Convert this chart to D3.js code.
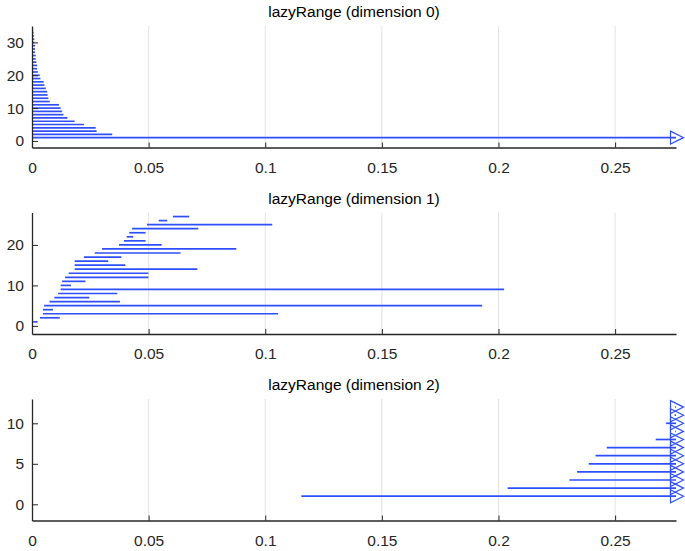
<!DOCTYPE html>
<html lang="en">
<head>
  <meta charset="utf-8" />
  <title>lazyRange barcodes</title>
  <script src="https://cdn.jsdelivr.net/npm/d3@7"></script>
  <style>
    body { margin: 0; background: #fff; }
    text { font-family: "Liberation Sans", Arial, Helvetica, sans-serif; }
  </style>
</head>
<body>
  <script>
    // barcode intervals per homology dimension, Infinity = never dies
    var dim0Birth = [0, 0, 0, 0, 0, 0, 0, 0, 0, 0, 0, 0, 0, 0, 0, 0, 0,
      0, 0, 0, 0, 0, 0, 0, 0, 0, 0, 0, 0, 0, 0, 0, 0, 0];
    var dim0Death = [Infinity, 0.0344, 0.0277, 0.0273, 0.0223, 0.0183, 0.0152, 0.0135,
      0.0129, 0.0123, 0.0116, 0.0076, 0.0070, 0.0067, 0.0065, 0.0059, 0.0053,
      0.0050, 0.0036, 0.0033, 0.0025, 0.0022, 0.0022, 0.0019, 0.0016, 0.0016,
      0.0013, 0.0013, 0.0013, 0.0010, 0.0010, 0.0009, 0.0007, 0.0005];

    var dim1Birth = [0.0005, 0.0034, 0.0047, 0.0047, 0.0052, 0.0075, 0.0096, 0.0112,
      0.0123, 0.0123, 0.0129, 0.0142, 0.0157, 0.0183, 0.0183, 0.0183, 0.0223,
      0.0269, 0.0300, 0.0373, 0.0394, 0.0406, 0.0417, 0.0429, 0.0493, 0.0543, 0.0604];
    var dim1Death = [0.0024, 0.0119, 0.1055, 0.0090, 0.1930, 0.0377, 0.0246, 0.0366,
      0.2024, 0.0167, 0.0229, 0.0499, 0.0499, 0.0709, 0.0400, 0.0327, 0.0383,
      0.0637, 0.0876, 0.0556, 0.0487, 0.0434, 0.0487, 0.0713, 0.1030, 0.0580, 0.0674];

    var dim2Birth = [0.1155, 0.2039, 0.2304, 0.2337, 0.2387, 0.2416, 0.2464, 0.2674,
      0.2758, 0.2718, 0.2755, 0.2757];
    var dim2Death = [Infinity, Infinity, Infinity, Infinity, Infinity, Infinity,
      Infinity, Infinity, Infinity, Infinity, Infinity, Infinity];

    var xTicks = [0, 0.05, 0.1, 0.15, 0.2, 0.25];
    var xMax = 0.2761;

    var panels = [
      { title: "lazyRange (dimension 0)", birth: dim0Birth, death: dim0Death, yTicks: [0, 10, 20, 30], top: 26 },
      { title: "lazyRange (dimension 1)", birth: dim1Birth, death: dim1Death, yTicks: [0, 10, 20], top: 212.5 },
      { title: "lazyRange (dimension 2)", birth: dim2Birth, death: dim2Death, yTicks: [0, 5, 10], top: 399 }
    ];

    var width = 685, height = 551;
    var left = 32, right = 676, panelH = 121.5;
    var blue = "#2f4fff", axisCol = "#262626";

    var svg = d3.select("body").append("svg")
      .attr("width", width).attr("height", height);

    var x = d3.scaleLinear().domain([0, xMax]).range([left, right]);

    panels.forEach(function(p) {
      var n = p.birth.length;
      var bottom = p.top + panelH;
      var y = d3.scaleLinear().domain([-2, n + 1]).range([bottom, p.top]);
      var g = svg.append("g");

      // vertical grid
      g.append("g").selectAll("line")
        .data(xTicks.slice(1))
        .enter().append("line")
        .attr("x1", function(d) { return x(d); })
        .attr("x2", function(d) { return x(d); })
        .attr("y1", p.top).attr("y2", bottom)
        .attr("stroke", "#e3e3e3").attr("stroke-width", 1);

      var rows = d3.range(n).map(function(i) {
        return { b: p.birth[i], d: p.death[i], k: i + 1 };
      });

      g.append("g").selectAll("line")
        .data(rows)
        .enter().append("line")
        .attr("x1", function(d) { return x(d.b); })
        .attr("x2", function(d) { return x(isFinite(d.d) ? d.d : xMax); })
        .attr("y1", function(d) { return y(d.k); })
        .attr("y2", function(d) { return y(d.k); })
        .attr("stroke", blue).attr("stroke-width", 1.7);

      // arrow heads for infinite bars
      g.append("g").selectAll("path")
        .data(rows.filter(function(d) { return !isFinite(d.d); }))
        .enter().append("path")
        .attr("d", function(d) {
          var cx = x(xMax), cy = y(d.k);
          return "M" + (cx - 5.5) + "," + (cy - 6.5) + "L" + (cx + 7.5) + "," + cy +
            "L" + (cx - 5.5) + "," + (cy + 6.5) + "Z";
        })
        .attr("fill", "none").attr("stroke", blue).attr("stroke-width", 1.2);

      var xAxis = g.append("g")
        .attr("transform", "translate(0," + bottom + ")")
        .call(d3.axisBottom(x).tickValues(xTicks).tickFormat(d3.format("~g"))
          .tickSizeInner(-5).tickSizeOuter(0).tickPadding(14));

      var yAxis = g.append("g")
        .attr("transform", "translate(" + left + ",0)")
        .call(d3.axisLeft(y).tickValues(p.yTicks)
          .tickSizeInner(-6).tickSizeOuter(0).tickPadding(8));

      [xAxis, yAxis].forEach(function(a) {
        a.select(".domain").attr("stroke", axisCol).attr("stroke-width", 1.3);
        a.selectAll(".tick line").attr("stroke", axisCol);
        a.selectAll(".tick text").attr("fill", axisCol).style("font-size", "15.5px");
      });

      g.append("text")
        .attr("x", (left + right) / 2)
        .attr("y", p.top - 9)
        .attr("text-anchor", "middle")
        .style("font-size", "15.5px")
        .attr("fill", "#000")
        .text(p.title);
    });
  </script>
</body>
</html>
